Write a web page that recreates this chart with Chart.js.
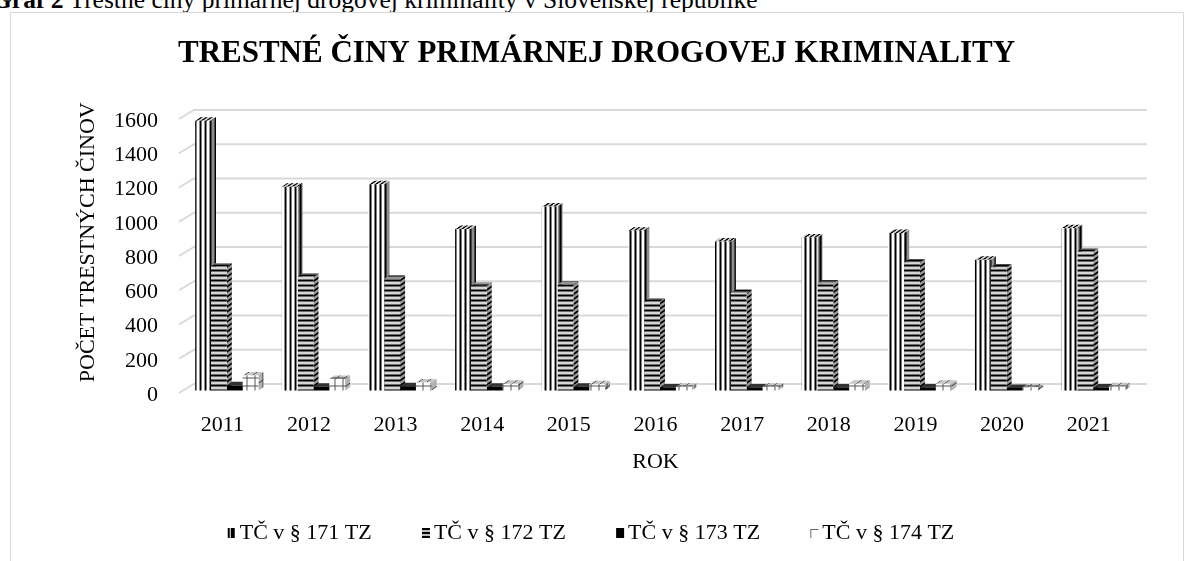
<!DOCTYPE html>
<html><head><meta charset="utf-8">
<script src="https://cdn.jsdelivr.net/npm/chart.js@4.4.1/dist/chart.umd.min.js"></script>
<style>
html,body{margin:0;padding:0;background:#fff;overflow:hidden;width:1197px;height:561px;}
#cap{position:absolute;left:-8px;top:-13px;font:25.5px/25px 'Liberation Serif','Times New Roman',serif;white-space:nowrap;color:#000;}
#box{position:absolute;left:10px;top:12px;width:1174px;height:600px;border:1px solid #d9d9d9;box-sizing:border-box;}
#wrap{position:absolute;left:10px;top:12px;width:1173px;height:560px;}
</style></head>
<body>
<div id="cap"><b>Graf 2</b> Trestné činy primárnej drogovej kriminality v Slovenskej republike</div>
<div id="box"></div>
<div id="wrap"><canvas id="c" width="1173" height="560"></canvas></div>
<script>
// ---- data ----
const years = ['2011','2012','2013','2014','2015','2016','2017','2018','2019','2020','2021'];
const s171 = [1575, 1190, 1205, 943, 1075, 933, 870, 894, 919, 763, 948];
const s172 = [724, 666, 651, 611, 617, 520, 569, 623, 748, 718, 812];
const s173 = [30, 22, 25, 22, 22, 18, 18, 18, 18, 15, 18];
const s174 = [88, 67, 47, 39, 37, 22, 22, 39, 39, 18, 25];
const seriesNames = ['TČ v § 171 TZ', 'TČ v § 172 TZ', 'TČ v § 173 TZ', 'TČ v § 174 TZ'];
const yTicks = [0, 200, 400, 600, 800, 1000, 1200, 1400, 1600];
const chartTitle = 'TRESTNÉ ČINY PRIMÁRNEJ DROGOVEJ KRIMINALITY';
const xTitle = 'ROK';
const yTitle = 'POČET TRESTNÝCH ČINOV';

const F = "'Liberation Serif','Times New Roman',serif";
// 3D geometry
const DX = 4.5, DY = 2.5;   // bar plane shift from front
const BDX = 5, BDY = 3.5;   // bar depth
const GDX = 15, GDY = 9;    // floor depth

function tile(w,h,draw){const c=document.createElement('canvas');c.width=w;c.height=h;const g=c.getContext('2d');draw(g);return c;}
const pctx = document.createElement('canvas').getContext('2d');
function pat(t, m){const p=pctx.createPattern(t,'repeat'); if(m && p.setTransform) p.setTransform(m); return p;}
const t171 = tile(5,5,g=>{g.fillStyle='#fff';g.fillRect(0,0,5,5);g.fillStyle='#000';g.fillRect(0,0,2,5);});
const t172 = tile(5,5,g=>{g.fillStyle='#d6d6d6';g.fillRect(0,0,5,5);g.fillStyle='#000';g.fillRect(0,0,5,2);});
const t174 = tile(8,8,g=>{g.fillStyle='#fff';g.fillRect(0,0,8,8);g.fillStyle='#555';g.fillRect(0,0,8,1);g.fillRect(0,0,1,8);});
const sideM = new DOMMatrix([1, -BDY/BDX, 0, 1, 0, 0]);
const topM = new DOMMatrix([1, 0, -BDX/BDY, 1, 0, 0]);
const fronts = [pat(t171), pat(t172), '#000', pat(t174)];
const sides = [[pat(t171),'rgba(0,0,0,0.45)'], [pat(t172, sideM),'rgba(0,0,0,0.3)'], ['#1a1a1a',null], [pat(t174, sideM),'rgba(0,0,0,0.3)']];
const tops = [[pat(t171, topM),'rgba(0,0,0,0.2)'], [pat(t172),'rgba(0,0,0,0.3)'], ['#333',null], [pat(t174, topM),'rgba(0,0,0,0.22)']];

function marker(draw){return tile(21,10,draw);}
const markers = [
  marker(g=>{g.fillStyle='#000';g.fillRect(10,0,2,10);g.fillRect(13,0,4,10);}),
  marker(g=>{g.fillStyle='#bbb';g.fillRect(10,0,8,10);g.fillStyle='#000';for(let y=0;y<10;y+=4)g.fillRect(10,y,8,2);}),
  marker(g=>{g.fillStyle='#000';g.fillRect(10,0,8,10);}),
  marker(g=>{g.fillStyle='#666';g.fillRect(10,1,8,1);g.fillRect(10,1,1,9);})
];

function face(ctx, pts, fill, overlay){
  ctx.beginPath(); ctx.moveTo(pts[0][0],pts[0][1]);
  for(let i=1;i<pts.length;i++) ctx.lineTo(pts[i][0],pts[i][1]);
  ctx.closePath(); ctx.fillStyle=fill; ctx.fill();
  if(overlay){ctx.fillStyle=overlay; ctx.fill();}
}

const threeD = {
  id:'threeD',
  beforeDatasetsDraw(chart){
    const ctx=chart.ctx, ca=chart.chartArea, ys=chart.scales.y;
    ctx.save();
    ctx.strokeStyle='#d9d9d9'; ctx.lineWidth=2;
    yTicks.forEach(v=>{
      const py=ys.getPixelForValue(v);
      ctx.beginPath(); ctx.moveTo(ca.left,py); ctx.lineTo(ca.left+GDX,py-GDY); ctx.lineTo(ca.right+GDX,py-GDY); ctx.stroke();
    });
    ctx.restore();
    ctx.save();
    ctx.translate(DX,-DY);
    const bars=[];
    chart.data.datasets.forEach((d,di)=>{
      chart.getDatasetMeta(di).data.forEach(el=>{
        const p=el.getProps(['x','y','base','width'],true);
        bars.push({di, l:p.x-p.width/2, r:p.x+p.width/2, top:p.y, base:p.base});
      });
    });
    bars.forEach(b=>{
      face(ctx, [[b.r,b.base],[b.r+BDX,b.base-BDY],[b.r+BDX,b.top-BDY],[b.r,b.top]], sides[b.di][0], sides[b.di][1]);
    });
    bars.forEach(b=>{
      face(ctx, [[b.l,b.top],[b.r,b.top],[b.r+BDX,b.top-BDY],[b.l+BDX,b.top-BDY]], tops[b.di][0], tops[b.di][1]);
    });
  },
  afterDatasetsDraw(chart){ chart.ctx.restore(); }
};

const series=[s171,s172,s173,s174];
new Chart(document.getElementById('c').getContext('2d'), {
  type:'bar',
  data:{
    labels:years,
    datasets: series.map((s,i)=>({label:seriesNames[i], data:s, backgroundColor:fronts[i], borderWidth:0}))
  },
  options:{
    responsive:false, animation:false, devicePixelRatio:1,
    layout:{padding:{left:0,right:0,top:0,bottom:18}},
    datasets:{bar:{categoryPercentage:0.73, barPercentage:1.0, clip:false}},
    scales:{
      x:{
        grid:{display:false, drawTicks:false}, border:{display:false},
        ticks:{font:{family:F,size:22}, color:'#000', padding:19, maxRotation:0},
        title:{display:true, text:xTitle, font:{family:F,size:22,lineHeight:1}, color:'#000', padding:{top:0,bottom:-1}},
        afterFit(s){ s.height=78.8; }
      },
      y:{
        min:0, max:1600,
        grid:{display:false, drawTicks:false}, border:{display:false},
        ticks:{stepSize:200, font:{family:F,size:22}, color:'#000', padding:21, labelOffset:2,
          callback:(v)=>String(v)},
        title:{display:true, text:'     '+yTitle, font:{family:F,size:22}, color:'#000', padding:{top:65,bottom:0}},
        afterFit(s){ s.width=169; }
      },
      y2:{
        type:'linear', position:'right', display:true,
        grid:{display:false, drawTicks:false}, border:{display:false}, ticks:{display:false},
        afterFit(s){ s.width=51; }
      }
    },
    plugins:{
      title:{display:true, text:chartTitle, font:{family:F,size:31,weight:'bold'}, color:'#000', padding:{top:23.4,bottom:46.4}},
      legend:{
        position:'bottom',
        labels:{
          usePointStyle:true, boxWidth:1, boxHeight:10, padding:50.2,
          font:{family:F,size:22}, color:'#000',
          generateLabels(chart){
            return chart.data.datasets.map((d,i)=>({text:d.label + (i===chart.data.datasets.length-1?'  ':''), fillStyle:'#000', strokeStyle:'rgba(0,0,0,0)', lineWidth:0, pointStyle:markers[i], hidden:false, datasetIndex:i, fontColor:'#000'}));
          }
        }
      },
      tooltip:{enabled:false}
    }
  },
  plugins:[threeD]
});
</script>
</body></html>
